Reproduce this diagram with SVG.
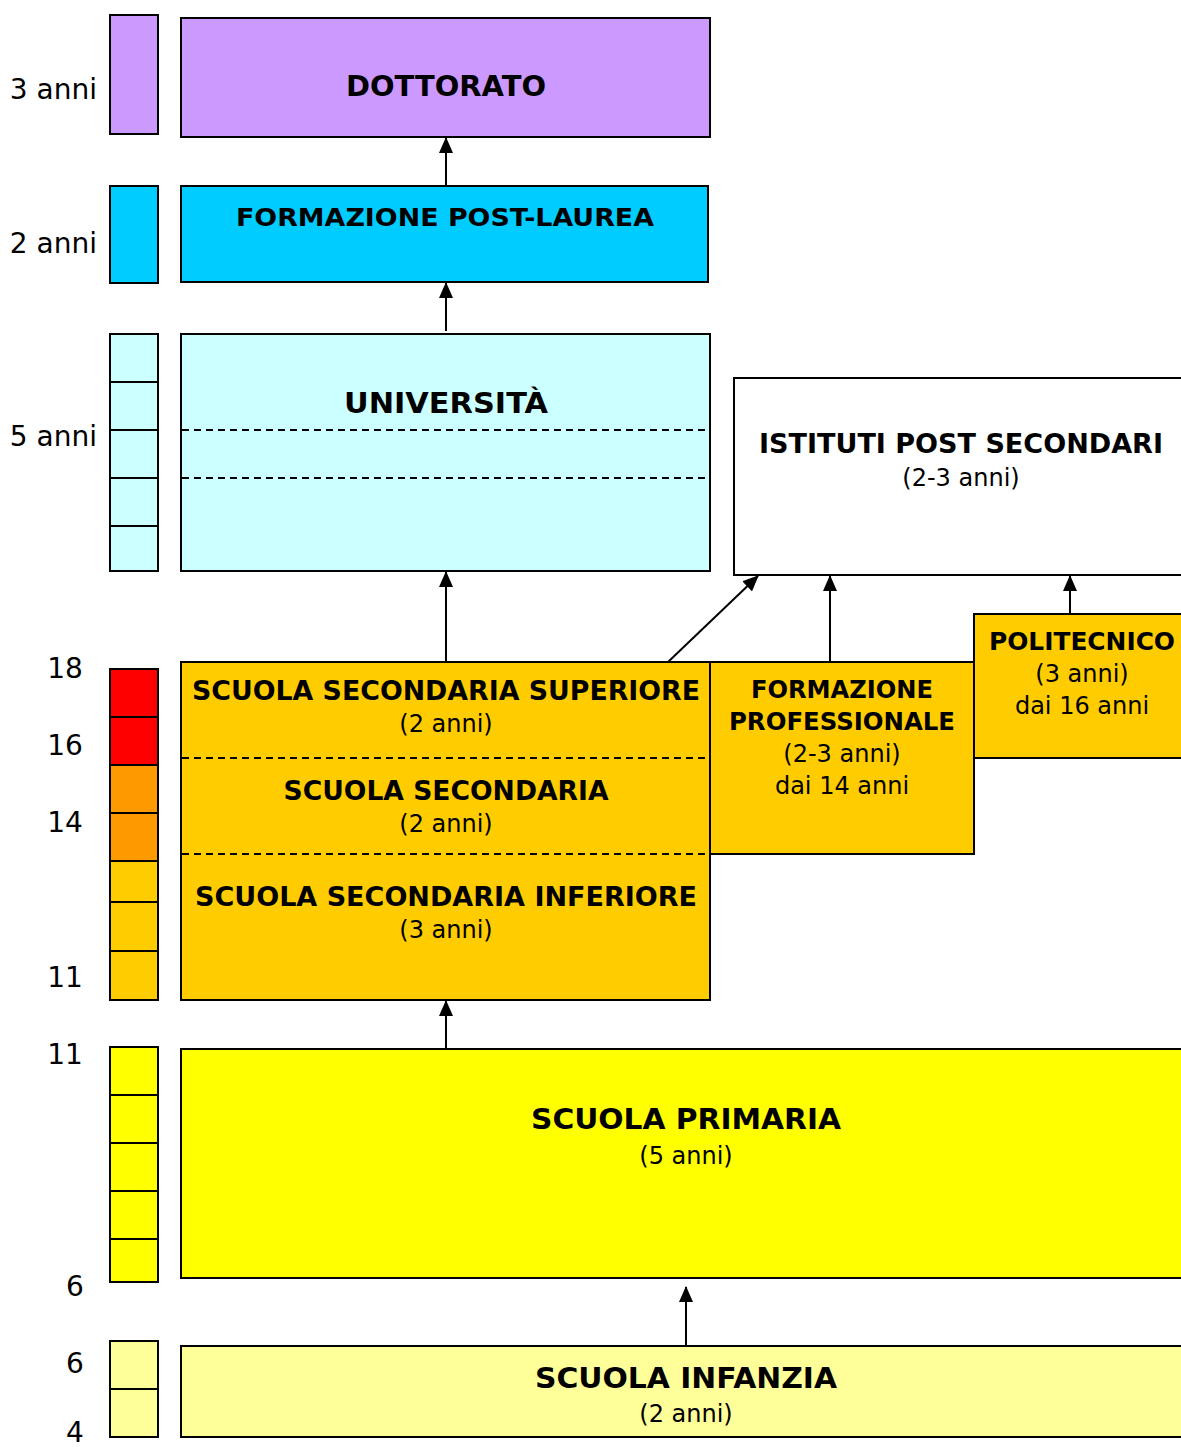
<svg xmlns="http://www.w3.org/2000/svg" width="1181" height="1450" viewBox="0 0 1181 1450">
<style>
.box{stroke:#000;stroke-width:2}
.seg{stroke:#000;stroke-width:2}
.dash{stroke:#000;stroke-width:2;stroke-dasharray:7 5;fill:none}
.t{font-family:"DejaVu Sans","Liberation Sans",sans-serif;fill:#000;text-anchor:middle}
.b{font-weight:bold}
.yr{font-family:"DejaVu Sans","Liberation Sans",sans-serif;font-size:28px;fill:#000;text-anchor:end}
.age{font-family:"DejaVu Sans","Liberation Sans",sans-serif;font-size:28px;fill:#000;text-anchor:middle}
.conn{stroke:#000;stroke-width:2;fill:none;marker-end:url(#ah)}
</style>
<defs>
<marker id="ah" markerWidth="16" markerHeight="14" refX="15" refY="7" orient="auto" markerUnits="userSpaceOnUse" viewBox="0 0 16 14">
<path d="M0,0 L16,7 L0,14 Z" fill="#000"/>
</marker>
</defs>
<rect width="1181" height="1450" fill="#fff"/>

<g id="scale">
<rect class="seg" x="110" y="15" width="48" height="119" fill="#CC99FF"/>
<rect class="seg" x="110" y="186" width="48" height="97" fill="#00CCFF"/>
<rect class="seg" x="110" y="334" width="48" height="48" fill="#CCFFFF"/>
<rect class="seg" x="110" y="382" width="48" height="48" fill="#CCFFFF"/>
<rect class="seg" x="110" y="430" width="48" height="48" fill="#CCFFFF"/>
<rect class="seg" x="110" y="478" width="48" height="48" fill="#CCFFFF"/>
<rect class="seg" x="110" y="526" width="48" height="45" fill="#CCFFFF"/>
<rect class="seg" x="110" y="669" width="48" height="48" fill="#FF0000"/>
<rect class="seg" x="110" y="717" width="48" height="48" fill="#FF0000"/>
<rect class="seg" x="110" y="765" width="48" height="48" fill="#FF9900"/>
<rect class="seg" x="110" y="813" width="48" height="48" fill="#FF9900"/>
<rect class="seg" x="110" y="861" width="48" height="41" fill="#FFCC00"/>
<rect class="seg" x="110" y="902" width="48" height="49" fill="#FFCC00"/>
<rect class="seg" x="110" y="951" width="48" height="49" fill="#FFCC00"/>
<rect class="seg" x="110" y="1047" width="48" height="48" fill="#FFFF00"/>
<rect class="seg" x="110" y="1095" width="48" height="48" fill="#FFFF00"/>
<rect class="seg" x="110" y="1143" width="48" height="48" fill="#FFFF00"/>
<rect class="seg" x="110" y="1191" width="48" height="48" fill="#FFFF00"/>
<rect class="seg" x="110" y="1239" width="48" height="43" fill="#FFFF00"/>
<rect class="seg" x="110" y="1341" width="48" height="48" fill="#FFFF99"/>
<rect class="seg" x="110" y="1389" width="48" height="48" fill="#FFFF99"/>
<text class="yr" x="97" y="99">3 anni</text>
<text class="yr" x="97" y="253">2 anni</text>
<text class="yr" x="97" y="446">5 anni</text>
<text class="age" x="65" y="678">18</text>
<text class="age" x="65" y="755">16</text>
<text class="age" x="65" y="832">14</text>
<text class="age" x="65" y="987">11</text>
<text class="age" x="65" y="1064">11</text>
<text class="age" x="75" y="1296">6</text>
<text class="age" x="75" y="1373">6</text>
<text class="age" x="75" y="1442">4</text>
</g>

<g id="dottorato">
<rect class="box" x="181" y="18" width="529" height="119" fill="#CC99FF"/>
<text class="t b" x="446" y="96" font-size="28" textLength="200" lengthAdjust="spacingAndGlyphs">DOTTORATO</text>
</g>

<g id="post-laurea">
<rect class="box" x="181" y="186" width="527" height="96" fill="#00CCFF"/>
<text class="t b" x="445" y="226" font-size="25" textLength="418" lengthAdjust="spacingAndGlyphs">FORMAZIONE POST-LAUREA</text>
</g>

<g id="universita">
<rect class="box" x="181" y="334" width="529" height="237" fill="#CCFFFF"/>
<line class="dash" x1="182" y1="430" x2="709" y2="430"/>
<line class="dash" x1="182" y1="478" x2="709" y2="478"/>
<text class="t b" x="446" y="413" font-size="28" textLength="204" lengthAdjust="spacingAndGlyphs">UNIVERSITÀ</text>
</g>

<g id="istituti">
<rect class="box" x="734" y="378" width="460" height="197" fill="#fff"/>
<text class="t b" x="961" y="453" font-size="26" textLength="404" lengthAdjust="spacingAndGlyphs">ISTITUTI POST SECONDARI</text>
<text class="t" x="961" y="486" font-size="24">(2-3 anni)</text>
</g>

<g id="politecnico">
<rect class="box" x="974" y="614" width="220" height="144" fill="#FFCC00"/>
<text class="t b" x="1082" y="650" font-size="25" textLength="186" lengthAdjust="spacingAndGlyphs">POLITECNICO</text>
<text class="t" x="1082" y="682" font-size="24">(3 anni)</text>
<text class="t" x="1082" y="714" font-size="24">dai 16 anni</text>
</g>

<g id="formazione-professionale">
<rect class="box" x="710" y="662" width="264" height="192" fill="#FFCC00"/>
<text class="t b" x="842" y="698" font-size="24" textLength="182" lengthAdjust="spacingAndGlyphs">FORMAZIONE</text>
<text class="t b" x="842" y="730" font-size="24" textLength="226" lengthAdjust="spacingAndGlyphs">PROFESSIONALE</text>
<text class="t" x="842" y="762" font-size="24">(2-3 anni)</text>
<text class="t" x="842" y="794" font-size="24">dai 14 anni</text>
</g>

<g id="secondaria">
<rect class="box" x="181" y="662" width="529" height="338" fill="#FFCC00"/>
<line class="dash" x1="182" y1="758" x2="709" y2="758"/>
<line class="dash" x1="182" y1="854" x2="709" y2="854"/>
<text class="t b" x="446" y="700" font-size="26" textLength="508" lengthAdjust="spacingAndGlyphs">SCUOLA SECONDARIA SUPERIORE</text>
<text class="t" x="446" y="732" font-size="24">(2 anni)</text>
<text class="t b" x="446" y="800" font-size="26" textLength="325" lengthAdjust="spacingAndGlyphs">SCUOLA SECONDARIA</text>
<text class="t" x="446" y="832" font-size="24">(2 anni)</text>
<text class="t b" x="446" y="906" font-size="26" textLength="502" lengthAdjust="spacingAndGlyphs">SCUOLA SECONDARIA INFERIORE</text>
<text class="t" x="446" y="938" font-size="24">(3 anni)</text>
</g>

<g id="primaria">
<rect class="box" x="181" y="1049" width="1013" height="229" fill="#FFFF00"/>
<text class="t b" x="686" y="1129" font-size="28" textLength="310" lengthAdjust="spacingAndGlyphs">SCUOLA PRIMARIA</text>
<text class="t" x="686" y="1164" font-size="24">(5 anni)</text>
</g>

<g id="infanzia">
<rect class="box" x="181" y="1346" width="1013" height="91" fill="#FFFF99"/>
<text class="t b" x="686" y="1388" font-size="28" textLength="302" lengthAdjust="spacingAndGlyphs">SCUOLA INFANZIA</text>
<text class="t" x="686" y="1422" font-size="24">(2 anni)</text>
</g>

<g id="connectors">
<line class="conn" x1="446" y1="186" x2="446" y2="138"/>
<line class="conn" x1="446" y1="331" x2="446" y2="283"/>
<line class="conn" x1="446" y1="662" x2="446" y2="572"/>
<line class="conn" x1="668" y1="662" x2="758" y2="576"/>
<line class="conn" x1="830" y1="662" x2="830" y2="576"/>
<line class="conn" x1="1070" y1="614" x2="1070" y2="576"/>
<line class="conn" x1="446" y1="1049" x2="446" y2="1001"/>
<line class="conn" x1="686" y1="1345" x2="686" y2="1287"/>
</g>
</svg>
